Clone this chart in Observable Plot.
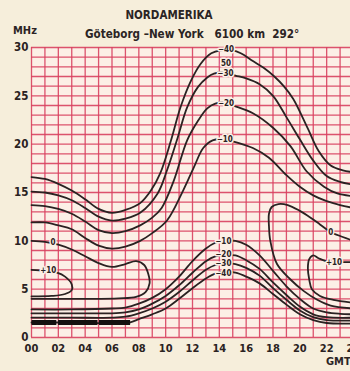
<!DOCTYPE html>
<html><head><meta charset="utf-8">
<script src="https://cdn.jsdelivr.net/npm/d3@7"></script>
<script src="https://cdn.jsdelivr.net/npm/@observablehq/plot@0.6"></script>
<style>
html,body{margin:0;padding:0;background:#f6eedb;overflow:hidden;}
#wrap{position:relative;width:350px;height:371px;overflow:hidden;font-family:"DejaVu Sans Condensed","Liberation Sans Narrow",sans-serif;color:#2b2424;}
.t{position:absolute;white-space:pre;font-weight:bold;line-height:1;}
#chart{position:absolute;left:0;top:0;width:380px;}
#chart svg{max-width:none !important;}
</style></head><body>
<div id="wrap">
<div id="chart"></div>
<div class="t" id="title" style="left:169px;top:10px;font-size:11.5px;transform:translateX(-50%)">NORDAMERIKA</div>
<div class="t" id="sub" style="left:85px;top:29px;font-size:11.6px">Göteborg –New York   6100 km  292°</div>
<div class="t" style="left:13px;top:25px;font-size:11px">MHz</div>
<div class="t" style="left:326px;top:356px;font-size:11px">GMT</div>
</div>
<script>
// ---- data (hour GMT, MHz) ----
const hourTicks = [0, 2, 4, 6, 8, 10, 12, 14, 16, 18, 20, 22, 24];
const hourLabels = ["00", "02", "04", "06", "08", "10", "12", "14", "16", "18", "20", "22", "24"];
const mhzTicks = [0, 5, 10, 15, 20, 25, 30];

const upper40 = [[0,16.6],[1,16.4],[2,15.9],[3,15.2],[4,14.3],[5,13.3],[6,12.9],[7,13.2],[8.1,13.9],[8.9,15.2],[9.6,17.0],[10.4,20.4],[11.1,23.8],[11.9,26.6],[12.6,28.3],[13.4,29.4],[14.1,29.7],[15,29.7],[15.6,29.4],[16.5,28.6],[17.3,27.9],[18.1,27.0],[18.8,26.0],[19.5,24.7],[20.6,21.6],[21.4,19.3],[22.3,17.8],[23.2,17.3],[24,17.1]];
const upper30 = [[0,15.1],[1,15.0],[2,14.7],[3,14.2],[4,13.4],[5,12.5],[6,12.1],[7,12.3],[8.1,12.9],[9.4,14.9],[10.1,17.3],[10.9,20.7],[11.6,23.8],[12.4,25.9],[13.1,26.9],[13.6,27.3],[14.4,27.4],[15.2,27.1],[16,26.8],[17,26.2],[18,25.0],[19,22.8],[20,20.5],[21,18.3],[22,16.7],[23,16.1],[24,15.8]];
const upper20 = [[0,13.7],[1,13.6],[2,13.3],[3,12.8],[4,12.0],[5,11.1],[6,10.8],[7,11.0],[8.1,11.6],[9,12.4],[9.7,13.4],[10.6,16.2],[11.6,20.4],[12.4,22.4],[13.1,23.7],[13.7,24.2],[14.4,24.3],[15,24.0],[16.5,23.2],[18,21.7],[19.3,19.8],[20.5,17.2],[21.8,15.6],[22.8,14.9],[24,14.6]];
const upper10 = [[0,11.9],[1,11.9],[2,11.6],[3,11.2],[4,10.3],[5,9.5],[6,9.2],[7,9.4],[8.1,10.0],[9,10.8],[10.1,12.1],[11.3,15.2],[12.1,17.6],[12.8,19.6],[13.5,20.4],[14.3,20.5],[15,20.3],[16.5,19.6],[17.7,18.6],[19,16.8],[20,15.6],[21,14.7],[22,14.1],[23,13.7],[24,13.4]];
const zeroLeft = [[0,10.0],[1,9.9],[2,9.6],[3,9.1],[4,8.4],[5,7.7],[6,7.3],[7,7.6],[7.8,7.9],[8.4,7.5],[8.7,6.6],[8.8,5.6],[8.5,4.7],[7.8,4.2],[6.5,4.05],[4,4.0],[2,4.0],[0,4.0]];
const plus10Left = [[0,7.0],[1,6.9],[1.9,6.7],[2.5,6.3],[3.0,5.5],[3.0,4.9],[2.5,4.5],[1.5,4.3],[0,4.25]];
const zeroRight = [[24,10.0],[23.2,10.4],[22.3,10.9],[21.5,11.7],[20.8,12.4],[20,13.1],[19.1,13.7],[18.4,13.8],[17.9,13.5],[17.7,12.8],[17.7,11.5],[17.8,10.0],[18.3,7.6],[19.3,6.0],[20.3,4.8],[21.3,3.9],[22.3,3.3],[24,3.0]];
const plus10Right = [[24,7.8],[23.2,7.8],[22.2,7.8],[21.4,8.2],[21,8.5],[20.7,8.1],[20.6,7.2],[20.7,6.0],[20.9,5.0],[21.5,4.3],[22.5,3.9],[24,3.6]];
const lower10 = [[0,2.9],[3,2.9],[6,3.0],[7,3.1],[8,3.5],[9,4.1],[10,5.0],[11,6.3],[12,7.9],[13,9.2],[13.7,9.8],[14.4,10.0],[15.2,10.0],[16,9.6],[17,8.5],[18,6.9],[19,5.3],[20,4.0],[21,3.0],[22,2.6],[23,2.45],[24,2.4]];
const lower20 = [[0,2.5],[3,2.5],[6,2.5],[7,2.6],[8,2.9],[9,3.5],[10,4.3],[11,5.4],[12,6.7],[13,7.9],[13.7,8.4],[14.5,8.5],[15.2,8.5],[16,8.0],[17,7.1],[18,5.7],[19,4.4],[20,3.2],[21,2.4],[22,2.1],[24,2.05]];
const lower30 = [[0,2.05],[3,2.05],[6,2.05],[7,2.15],[8,2.5],[9,3.0],[10,3.7],[11,4.7],[12,5.9],[13,7.0],[13.7,7.5],[14.5,7.7],[15.2,7.6],[16,7.2],[17,6.4],[18,5.1],[19,3.9],[20,2.8],[21,2.1],[22,1.8],[24,1.75]];
const lower40 = [[0,1.55],[3,1.55],[7.3,1.55],[8,1.9],[9,2.4],[10,3.0],[11,4.0],[12,5.1],[13,6.1],[13.7,6.6],[14.5,6.8],[15.2,6.7],[16,6.3],[17,5.6],[18,4.5],[19,3.4],[20,2.4],[21,1.8],[22,1.5],[24,1.45]];

const barSegments = [[0,1.85],[1.98,4.92],[5.02,7.35]];
const barLevel = 1.55;

const labelText = ["−40","50","−30","−20","−10","−10","−20","−30","−40","0","+10","0","+10"];
const labelHour = [14.5,14.5,14.45,14.5,14.4,14.3,14.3,14.3,14.3,1.6,1.25,22.3,22.55];
const labelMHz  = [29.75,28.35,27.3,24.2,20.5,9.95,8.6,7.65,6.65,9.8,6.95,10.9,7.8];

// ---- build tables ----
const curves = {upper40, upper30, upper20, upper10, zeroLeft, plus10Left, zeroRight, plus10Right, lower10, lower20, lower30, lower40};
const rows = Object.entries(curves).flatMap(([id, pts]) => pts.map(([h, f]) => ({id, h, f})));
const labels = labelText.map((t, i) => ({t, h: labelHour[i], f: labelMHz[i]}));

const paper = "#fcefe6";
const ink = "#2a2222";
const gridRed = "#d8405f";
const font = '"DejaVu Sans Condensed","Liberation Sans Narrow",sans-serif';

const chart = Plot.plot({
  width: 380, height: 371,
  marginLeft: 31, marginRight: 27, marginTop: 47, marginBottom: 34,
  style: {background: "transparent", fontFamily: font, fontSize: "11px", fontWeight: "bold", color: ink, maxWidth: "none"},
  x: {domain: [0, 24], label: null},
  y: {domain: [0, 30], label: null},
  marks: [
    Plot.frame({fill: paper, stroke: null}),
    Plot.gridX(d3.range(0, 25), {stroke: gridRed, strokeOpacity: 0.9, strokeWidth: 1.3}),
    Plot.gridY(d3.range(0, 31), {stroke: gridRed, strokeOpacity: 0.9, strokeWidth: 1.3}),
    Plot.line(rows, {x: "h", y: "f", z: "id", curve: "catmull-rom", stroke: ink, strokeWidth: 1.8}),
    Plot.link(barSegments, {x1: d => d[0], x2: d => d[1], y1: () => barLevel, y2: () => barLevel, stroke: "#141010", strokeWidth: 5}),
    Plot.text(labels, {x: "h", y: "f", text: "t", fill: ink, stroke: paper, strokeWidth: 3, fontSize: 8, fontWeight: "bold"}),
    Plot.axisX(hourTicks, {tickSize: 0, tickPadding: 7, tickFormat: (d, i) => hourLabels[i], fontSize: 11, label: null}),
    Plot.axisY(mhzTicks, {tickSize: 0, tickPadding: 3, fontSize: 11.5, label: null})
  ]
});
document.getElementById("chart").appendChild(chart);
</script>
</body></html>
